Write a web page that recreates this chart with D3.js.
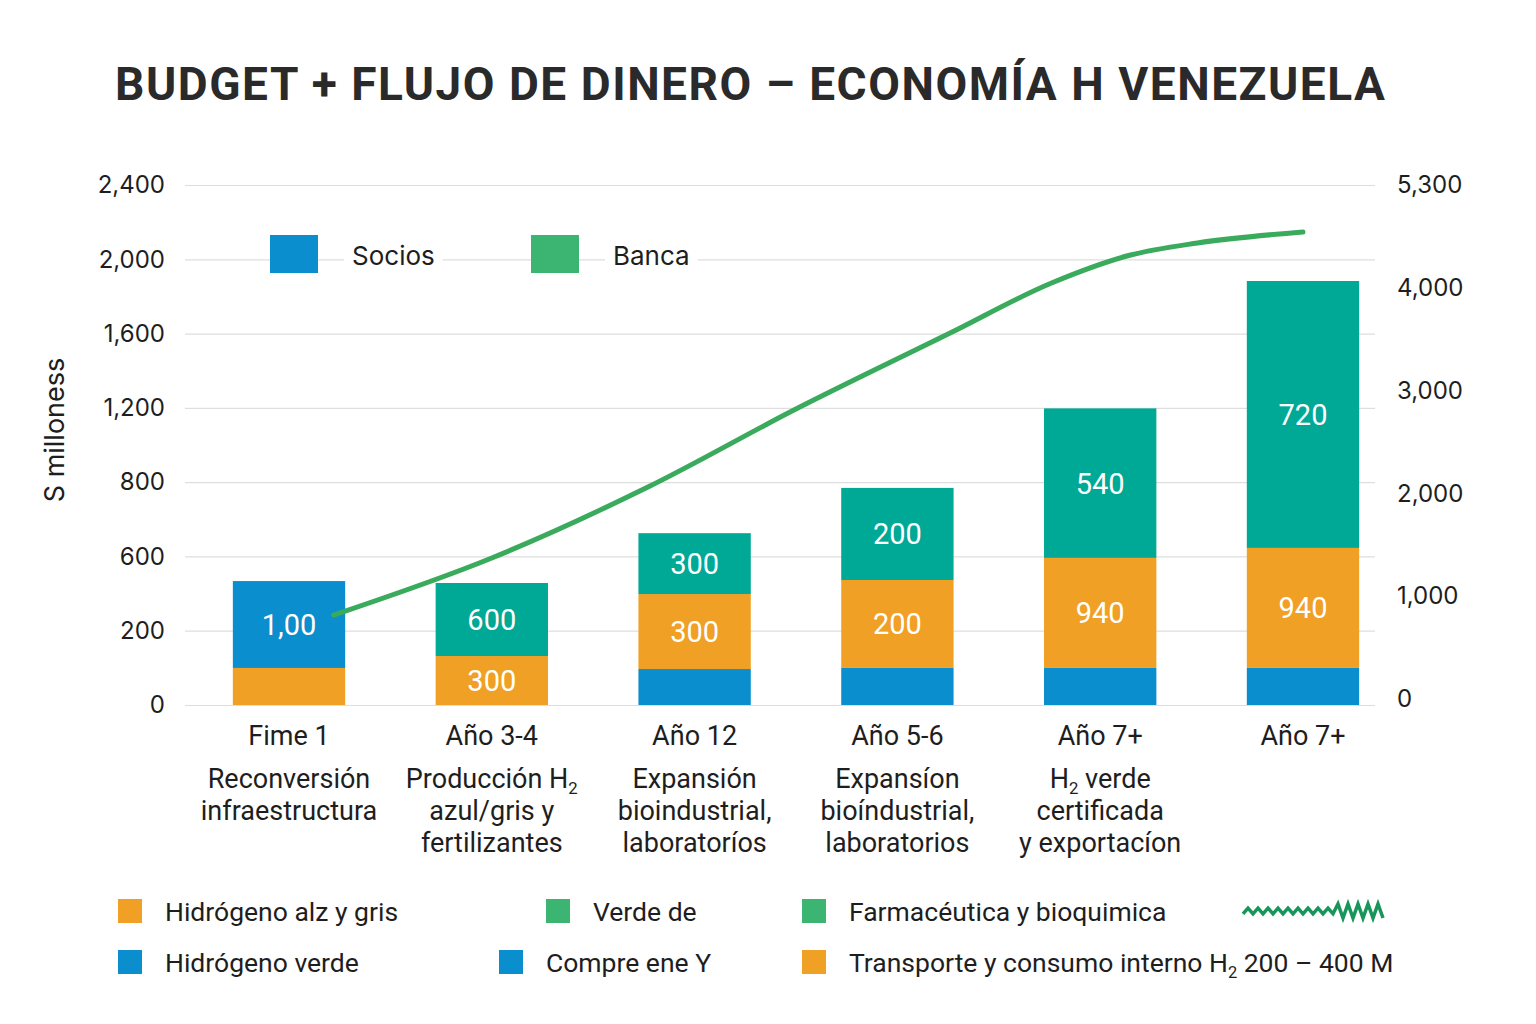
<!DOCTYPE html>
<html>
<head>
<meta charset="utf-8">
<script src="https://cdn.jsdelivr.net/npm/d3@7"></script>
<style>
  html, body { margin: 0; padding: 0; background: #fff; }
  svg { display: block; }
</style>
</head>
<body>
<div id="chart"></div>
<script>
// ---------------------------------------------------------------------------
// Data
// ---------------------------------------------------------------------------
const categories = ['Fime 1', 'Año 3-4', 'Año 12', 'Año 5-6', 'Año 7+', 'Año 7+'];
const subtitles = [
  ['Reconversión', 'infraestructura'],
  ['Producción H_2', 'azul/gris y', 'fertilizantes'],
  ['Expansión', 'bioindustrial,', 'laboratoríos'],
  ['Expansíon', 'bioíndustrial,', 'laboratorios'],
  ['H_2 verde', 'certificada', 'y exportacíon'],
  []
];

// stacked segments, bottom to top (left-axis units)
const sociosBase = [0, 0, 166, 171, 171, 171];
const hidrogeno  = [171, 226, 346, 406, 508, 554];
const banca      = [0, 337, 281, 425, 690, 1232];
const sociosTop  = [401, 0, 0, 0, 0, 0];

const hidrogenoLabels = ['', '300', '300', '200', '940', '940'];
const bancaLabels     = ['', '600', '300', '200', '540', '720'];
const sociosTopLabels = ['1,00', '', '', '', '', ''];

// cumulative flow line (right axis), x in category-index units
const flowX = [0.22, 1.0, 1.77, 2.49, 3.26, 3.76, 4.15, 4.48, 5.0];
const flowY = [817, 1372, 2062, 2811, 3560, 4047, 4319, 4436, 4543];

const leftLabels = ['0', '200', '600', '800', '1,200', '1,600', '2,000', '2,400'];
const leftTickValues = [0, 343, 686, 1029, 1371, 1714, 2057, 2400];
const rightTickValues = [0, 1000, 2000, 3000, 4000, 5000];
const rightLabels = ['0', '1,000', '2,000', '3,000', '4,000', '5,300'];

const topLegend = [
  { label: 'Socios', color: '#0a8ecd' },
  { label: 'Banca', color: '#3db572' }
];
const bottomLegend = [
  [{ label: 'Hidrógeno alz y gris', color: '#f0a024' },
   { label: 'Verde de', color: '#3db572' },
   { label: 'Farmacéutica y bioquimica', color: '#3db572' }],
  [{ label: 'Hidrógeno verde', color: '#0a8ecd' },
   { label: 'Compre ene Y', color: '#0a8ecd' },
   { label: 'Transporte y consumo interno H_2 200 – 400 M', color: '#f0a024' }]
];

// ---------------------------------------------------------------------------
// Layout
// ---------------------------------------------------------------------------
const W = 1536, H = 1024;
const FONT = 'Inter, "Noto Sans", sans-serif';
const LABEL_FONT = 'Roboto, "Noto Sans", sans-serif';
const colors = { socios: '#0a8ecd', hidro: '#f0a024', banca: '#00a896', line: '#3aaa5c' };

const svg = d3.select('#chart').append('svg')
  .attr('width', W).attr('height', H)
  .attr('viewBox', `0 0 ${W} ${H}`);

const plotLeft = 185, plotRight = 1375, plotTop = 185, plotBottom = 705;

const x = d3.scaleBand()
  .domain(d3.range(categories.length))
  .range([172, 1420])
  .paddingInner(0.446)
  .paddingOuter(0.3);

// the left axis spaces its odd labels evenly
const y = d3.scaleLinear().domain([0, 2400]).range([plotBottom, plotTop]);
const yR = d3.scaleLinear().domain([0, 5000]).range([699, plotTop]);
const xLine = d3.scaleLinear().domain([0, 5])
  .range([x(0) + x.bandwidth() / 2, x(5) + x.bandwidth() / 2]);

// write text with "_2" as a subscript
function richText(sel, str, size) {
  const parts = str.split('_2');
  let shifted = false;
  parts.forEach((p, i) => {
    if (p) {
      const t = sel.append('tspan').text(p);
      if (shifted) { t.attr('dy', -6); shifted = false; }
    }
    if (i < parts.length - 1) {
      sel.append('tspan').attr('font-size', size * 0.62).attr('dy', 6).text('2');
      shifted = true;
    }
  });
}

// Title
svg.append('text')
  .attr('x', 750).attr('y', 100)
  .attr('text-anchor', 'middle')
  .attr('font-family', LABEL_FONT)
  .attr('font-weight', 700)
  .attr('font-size', 46)
  .attr('fill', '#2a2a2a')
  .attr('textLength', 1270)
  .attr('lengthAdjust', 'spacing')
  .text('BUDGET + FLUJO DE DINERO – ECONOMÍA H VENEZUELA');

// Left axis + gridlines
const gAxisL = svg.append('g')
  .attr('transform', `translate(${plotLeft},0)`)
  .call(d3.axisLeft(y)
    .tickValues(leftTickValues)
    .tickFormat((d, i) => leftLabels[i])
    .tickSize(-(plotRight - plotLeft))
    .tickPadding(20));
gAxisL.select('.domain').remove();
gAxisL.selectAll('.tick line').attr('stroke', '#dedede').attr('stroke-width', 1.2);
gAxisL.selectAll('.tick text')
  .attr('font-family', FONT).attr('font-size', 24).attr('fill', '#1e1e1e');

// Right axis
const gAxisR = svg.append('g')
  .attr('transform', `translate(${plotRight},0)`)
  .call(d3.axisRight(yR)
    .tickValues(rightTickValues)
    .tickFormat((d, i) => rightLabels[i])
    .tickSize(0)
    .tickPadding(22));
gAxisR.select('.domain').remove();
gAxisR.selectAll('.tick text')
  .attr('font-family', FONT).attr('font-size', 24).attr('fill', '#1e1e1e');

// Y axis title
svg.append('text')
  .attr('transform', 'translate(64,430) rotate(-90)')
  .attr('text-anchor', 'middle')
  .attr('font-family', FONT)
  .attr('font-size', 27)
  .attr('fill', '#1e1e1e')
  .text('S milloness');

// Top legend (white boxes break the gridline)
const tl = svg.append('g');
topLegend.forEach((d, i) => {
  const lx = [270, 531][i];
  tl.append('rect').attr('x', lx).attr('y', 235).attr('width', 48).attr('height', 38).attr('fill', d.color);
  const t = tl.append('text')
    .attr('x', lx + 82).attr('y', 265)
    .attr('font-family', FONT).attr('font-size', 26).attr('fill', '#1e1e1e')
    .text(d.label);
  const bb = t.node().getBBox();
  tl.insert('rect', 'text').attr('x', bb.x - 8).attr('y', bb.y).attr('width', bb.width + 16)
    .attr('height', bb.height).attr('fill', '#fff');
});

// Stacked bars
const rows = categories.map((c, i) => ({
  i, base: sociosBase[i], hidro: hidrogeno[i], banca: banca[i], top: sociosTop[i]
}));
const keys = ['base', 'hidro', 'banca', 'top'];
const keyColor = { base: colors.socios, hidro: colors.hidro, banca: colors.banca, top: colors.socios };
const keyLabels = { base: null, hidro: hidrogenoLabels, banca: bancaLabels, top: sociosTopLabels };
const stacked = d3.stack().keys(keys)(rows);

const gBars = svg.append('g');
stacked.forEach(layer => {
  gBars.append('g').selectAll('rect')
    .data(layer.filter(d => d[1] > d[0]))
    .join('rect')
    .attr('x', d => x(d.data.i))
    .attr('width', x.bandwidth())
    .attr('y', d => y(d[1]))
    .attr('height', d => y(d[0]) - y(d[1]))
    .attr('fill', keyColor[layer.key]);

  const labs = keyLabels[layer.key];
  if (!labs) return;
  gBars.append('g').selectAll('text')
    .data(layer.filter(d => labs[d.data.i]))
    .join('text')
    .attr('x', d => x(d.data.i) + x.bandwidth() / 2)
    .attr('y', d => (y(d[0]) + y(d[1])) / 2)
    .attr('dy', '0.36em')
    .attr('text-anchor', 'middle')
    .attr('font-family', LABEL_FONT)
    .attr('font-size', 29)
    .attr('fill', '#fff')
    .text(d => labs[d.data.i]);
});

// Cumulative flow line
const flow = flowX.map((v, i) => ({ x: v, y: flowY[i] }));
svg.append('path')
  .datum(flow)
  .attr('fill', 'none')
  .attr('stroke', colors.line)
  .attr('stroke-width', 5)
  .attr('stroke-linecap', 'round')
  .attr('d', d3.line().x(d => xLine(d.x)).y(d => yR(d.y)).curve(d3.curveMonotoneX));

// Category labels
const gCat = svg.append('g');
categories.forEach((c, i) => {
  const cx = x(i) + x.bandwidth() / 2;
  gCat.append('text')
    .attr('x', cx).attr('y', 745)
    .attr('text-anchor', 'middle')
    .attr('font-family', LABEL_FONT).attr('font-size', 27).attr('fill', '#1e1e1e')
    .text(c);
  subtitles[i].forEach((line, j) => {
    const t = gCat.append('text')
      .attr('x', cx).attr('y', 788 + j * 32)
      .attr('text-anchor', 'middle')
      .attr('font-family', LABEL_FONT).attr('font-size', 27).attr('fill', '#1e1e1e');
    richText(t, line, 27);
  });
});

// Bottom legend
const legCols = [[118, 546, 802], [118, 499, 802]];
const gLeg = svg.append('g');
bottomLegend.forEach((row, r) => {
  const ly = 899 + r * 51;
  row.forEach((d, k) => {
    const lx = legCols[r][k];
    gLeg.append('rect').attr('x', lx).attr('y', ly).attr('width', 24).attr('height', 24).attr('fill', d.color);
    const t = gLeg.append('text')
      .attr('x', lx + 47).attr('y', ly + 22)
      .attr('font-family', LABEL_FONT).attr('font-size', 26.5).attr('fill', '#1e1e1e');
    richText(t, d.label, 26.5);
  });
});

// garbled green glyph at the right end of the legend
const zz = d3.range(0, 29).map(k => [1243 + k * 5, 911 + (k % 2 ? -7 : 7) * (k > 18 ? 1 : 0.4)]);
gLeg.append('path')
  .attr('d', d3.line()(zz))
  .attr('fill', 'none')
  .attr('stroke', '#17955a')
  .attr('stroke-width', 3.5);
</script>
</body>
</html>
